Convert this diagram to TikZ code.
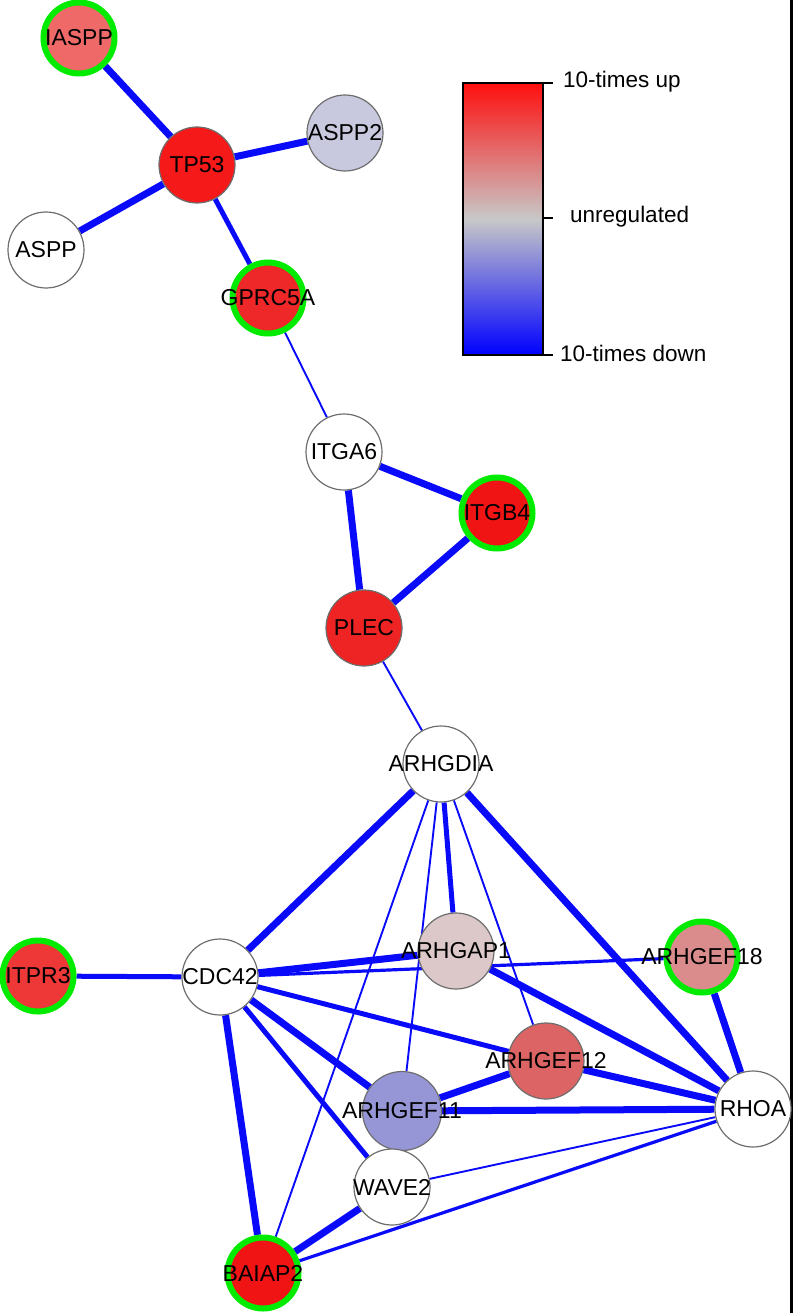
\documentclass[tikz,border=0pt]{standalone}
\usepackage{fontspec}
\setmainfont{Liberation Sans}
\usetikzlibrary{backgrounds}
\definecolor{ebl}{RGB}{10,10,250}
\definecolor{ring}{RGB}{0,235,0}
\definecolor{nborder}{RGB}{110,110,110}
\definecolor{cIASPP}{RGB}{240,105,105}
\definecolor{cTP}{RGB}{245,25,25}
\definecolor{cASPPtwo}{RGB}{200,200,222}
\definecolor{cGPR}{RGB}{238,40,40}
\definecolor{cITGB}{RGB}{240,20,20}
\definecolor{cPLEC}{RGB}{238,35,35}
\definecolor{cITPR}{RGB}{238,55,55}
\definecolor{cGAP}{RGB}{220,200,200}
\definecolor{cGEFe}{RGB}{218,140,140}
\definecolor{cGEFt}{RGB}{220,100,100}
\definecolor{cGEFo}{RGB}{150,150,215}
\definecolor{legtop}{RGB}{255,15,15}
\definecolor{legmid}{RGB}{200,200,200}
\definecolor{legbot}{RGB}{0,0,255}
\newcommand{\gl}[1]{\makebox[0pt][c]{#1}}
\tikzset{
  gene/.style={circle, minimum size=76pt, inner sep=0pt, draw=nborder, line width=1.2pt, fill=white,
    font=\fontsize{23}{23}\selectfont},
  hit/.style={gene, minimum size=71pt, draw=ring, line width=6pt},
  thickE/.style={draw=ebl, line width=7pt},
  medE/.style={draw=ebl, line width=5pt},
  midE/.style={draw=ebl, line width=3.2pt},
  thinE/.style={draw=ebl, line width=1.9pt},
  legtext/.style={anchor=west, inner sep=0pt, font=\fontsize{22.5}{22.5}\selectfont},
}
\begin{document}
\begin{tikzpicture}[x=1pt,y=-1pt]
\useasboundingbox (0,0) rectangle (793,1313);
\draw[black, line width=2.5pt] (791.5,0) -- (791.5,1313);

% legend
\shade[top color=legtop, bottom color=legbot, middle color=legmid] (463,83) rectangle (543,355);
\draw[black, line width=2.2pt] (463,83) rectangle (543,355);
\draw[black, line width=2pt] (543,83) -- (553,83) (543,218) -- (553,218) (543,355) -- (553,355);
\node[legtext] (lup) at (563,82) {10-times up};
\node[legtext] (lmid) at (570,217) {unregulated};
\node[legtext] (ldown) at (560,353) {10-times down};

% nodes
\node[hit, fill=cIASPP] (IASPP) at (79,38) {\gl{IASPP}};
\node[gene, fill=cTP] (TP53) at (197,165) {\gl{TP53}};
\node[gene, fill=cASPPtwo] (ASPP2) at (345,133) {\gl{ASPP2}};
\node[gene] (ASPP) at (46,250) {\gl{ASPP}};
\node[hit, fill=cGPR] (GPRC5A) at (268,298) {\gl{GPRC5A}};
\node[gene] (ITGA6) at (344,452) {\gl{ITGA6}};
\node[hit, fill=cITGB] (ITGB4) at (497,513) {\gl{ITGB4}};
\node[gene, fill=cPLEC] (PLEC) at (364,628) {\gl{PLEC}};
\node[gene] (ARHGDIA) at (441,764) {\gl{ARHGDIA}};
\node[hit, fill=cITPR] (ITPR3) at (38,976) {\gl{ITPR3}};
\node[gene] (CDC42) at (220,977) {\gl{CDC42}};
\node[gene, fill=cGAP] (ARHGAP1) at (456,951) {\gl{ARHGAP1}};
\node[hit, fill=cGEFe] (ARHGEF18) at (702,957) {\gl{ARHGEF18}};
\node[gene, fill=cGEFt] (ARHGEF12) at (546,1061) {\gl{ARHGEF12}};
\node[gene, fill=cGEFo, minimum size=79pt] (ARHGEF11) at (402,1111) {\gl{ARHGEF11}};
\node[gene] (RHOA) at (753,1109) {\gl{RHOA}};
\node[gene] (WAVE2) at (392,1187) {\gl{WAVE2}};
\node[hit, fill=cITGB] (BAIAP2) at (263,1273) {\gl{BAIAP2}};

% edges
\begin{scope}[on background layer]
\draw[thickE] (IASPP) -- (TP53);
\draw[thickE] (TP53) -- (ASPP2);
\draw[thickE] (TP53) -- (ASPP);
\draw[medE] (TP53) -- (GPRC5A);
\draw[thinE] (GPRC5A) -- (ITGA6);
\draw[thickE] (ITGA6) -- (ITGB4);
\draw[thickE] (ITGA6) -- (PLEC);
\draw[thickE] (ITGB4) -- (PLEC);
\draw[thinE] (PLEC) -- (ARHGDIA);
\draw[thickE] (ARHGDIA) -- (CDC42);
\draw[thickE] (ARHGDIA) -- (RHOA);
\draw[medE] (ARHGDIA) -- (ARHGAP1);
\draw[thinE] (ARHGDIA) -- (ARHGEF12);
\draw[thinE] (ARHGDIA) -- (ARHGEF11);
\draw[thinE] (ARHGDIA) -- (BAIAP2);
\draw[medE] (CDC42) -- (ITPR3);
\draw[thickE] (CDC42) -- (ARHGAP1);
\draw[midE] (CDC42) -- (ARHGEF18);
\draw[medE] (CDC42) -- (ARHGEF12);
\draw[thickE] (CDC42) -- (ARHGEF11);
\draw[medE] (CDC42) -- (WAVE2);
\draw[thickE] (CDC42) -- (BAIAP2);
\draw[thickE] (ARHGAP1) -- (RHOA);
\draw[thickE] (ARHGEF18) -- (RHOA);
\draw[thickE] (ARHGEF12) -- (RHOA);
\draw[thickE] (ARHGEF12) -- (ARHGEF11);
\draw[thickE] (ARHGEF11) -- (RHOA);
\draw[thinE] (WAVE2) -- (RHOA);
\draw[midE] (BAIAP2) -- (RHOA);
\draw[thickE] (BAIAP2) -- (WAVE2);
\end{scope}
\end{tikzpicture}
\end{document}
